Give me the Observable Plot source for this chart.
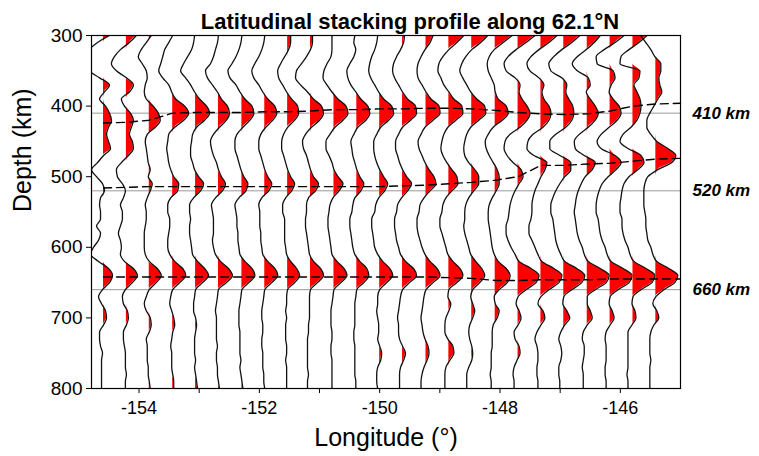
<!DOCTYPE html>
<html><head><meta charset="utf-8">
<script src="https://cdn.jsdelivr.net/npm/d3@7"></script>
<script src="https://cdn.jsdelivr.net/npm/@observablehq/plot@0.6"></script>
<style>body{margin:0;background:#fff;} svg{display:block}</style>
</head><body><div id="chart"></div>
<script>
// ---- data ----
const depths = [300,310,320,330,340,350,360,370,380,390,400,410,420,430,440,450,460,470,480,490,500,510,520,530,540,550,560,570,580,590,600,610,620,630,640,650,660,670,680,690,700,710,720,730,740,750,760,770,780,790,800];
const lons = [-154.59,-154.21,-153.83,-153.44,-153.06,-152.68,-152.29,-151.91,-151.53,-151.15,-150.76,-150.38,-150.00,-149.62,-149.23,-148.85,-148.47,-148.08,-147.70,-147.32,-146.94,-146.55,-146.17,-145.79,-145.41];
// amplitude (arbitrary units) of each stacked trace at each depth
const t00 = [6,-6,-14,-16,-16,-14,-4,6,1,-4, 2,6,8,5,3,5,7,0,-6,-12, -7,-1,1,-3,-4,-3, -3,-7,-3,-5,-10,-13,-5,5,9,6, -1,-5,-2,2,3,0,-4,-4,-3,-1, -2,-2,-2,-2,-2];
const t01 = [10,3,-6,-12,-15,-10,0,7,3,-5, -2,4,7,5,3,6,7,2,-5,-10, -9,-4,-1,-3,-6,-4, -4,-6,-8,-6,-5,-6,-2,7,11,6, -1,-4,-3,1,2,0,-3,-3,-2,-1, -1,-1,0,-1,-1];
const t02 = [2,-3,-8,-11,-7,-3,-2,-4,-5,-3, 4,9,11,6,-2,-4,-3,-2,-1,1, -1,3,1,-2,-4,-3, -3,-4,-5,-5,-5,-4,0,8,12,7, 0,-3,-5,-3,1,2,0,-3,-2,-2, -2,-1,-1,0,1];
const t03 = [0,-4,-8,-10,-12,-14,-10,-4,-1,3, 12,16,11,2,-4,-5,-6,-5,-4,-2, 1,6,5,-2,-5,-5, -3,-3,-4,-5,-5,-3,2,10,13,7, 0,-2,-3,-1,1,2,0,-1,-2,-1, -1,-1,0,1,1];
const t04 = [-1,-2,-4,-8,-12,-15,-10,-5,-1,4, 11,14,9,1,-3,-4,-5,-5,-3,-1, 3,8,5,-2,-6,-6, -5,-6,-6,-5,-4,-3,2,9,13,7, 0,-1,-2,-2,0,1,0,-1,-1,-1, 0,-1,0,1,2];
const t05 = [0,-1,-3,-5,-8,-13,-11,-6,-1,3, 9,11,8,1,-5,-8,-7,-5,-2,0, 3,7,4,-3,-7,-6, -5,-5,-5,-6,-5,-3,2,10,14,8, 0,-1,-2,-3,-2,-2,-2,-2,-1,-2, -2,-1,-1,0,1];
const t06 = [0,-1,-3,-6,-10,-14,-12,-6,-2,3, 10,12,8,1,-5,-7,-7,-5,-3,-1, 2,6,4,-3,-7,-6, -5,-5,-4,-4,-3,-2,3,10,13,7, 0,-1,-2,-3,-3,-3,-2,-2,-2,-2, -1,-2,-1,0,1];
const t07 = [0,-1,-3,-6,-10,-13,-11,-6,-2,3, 10,12,8,1,-4,-6,-6,-4,-2,0, 3,7,4,-3,-6,-5, -5,-5,-4,-4,-3,-2,3,10,13,7, 0,-1,-2,-3,-3,-2,-2,-3,-3,-2, -2,-2,-1,-1,0];
const t08 = [3,3,1,-3,-7,-10,-9,-5,-1,4, 10,11,7,0,-4,-6,-6,-4,-2,0, 3,7,4,-2,-5,-5, -3,-3,-3,-3,-2,-1,3,9,12,7, 0,-1,-1,-2,-1,-2,-2,-2,-1,-1, -2,-1,-1,-1,-1];
const t09 = [2,2,0,-4,-9,-14,-15,-10,-3,3, 11,13,9,1,-5,-8,-7,-4,-2,0, 3,8,5,-2,-4,-4, -5,-5,-4,-3,-2,-1,3,10,13,7, 0,-1,-1,-1,-1,-2,-2,-3,-3,-3, -3,-3,-2,-3,-3];
const t10 = [-2,-2,-2,-3,-7,-10,-11,-7,-2,4, 12,14,9,1,-4,-8,-8,-5,-2,0, 4,9,5,-1,-4,-5, -6,-6,-5,-4,-3,-2,3,10,13,7, 0,-1,-2,-3,-3,-3,-2,-2,-3,-3, -2,-2,-2,-2,-2];
const t11 = [-2,-3,-1,-3,-7,-10,-9,-6,-1,4, 11,13,9,1,-3,-6,-5,-4,-2,0, 3,7,4,-2,-4,-5, -7,-7,-6,-5,-4,-2,3,10,12,7, 0,-1,-2,-2,-2,-2,-3,-3,-2,-2, -2,-2,-2,-1,-1];
const t12 = [-2,-3,-5,-8,-10,-11,-9,-5,-1,4, 12,14,9,1,-3,-6,-6,-5,-3,0, 4,8,5,-1,-4,-5, -8,-8,-7,-6,-5,-2,3,10,13,7, 0,-2,-2,-3,-2,-1,-1,-2,0,2, 1,-2,-3,-3,-2];
const t13 = [2,1,-2,-6,-9,-10,-8,-4,0,5, 13,14,8,0,-4,-7,-7,-5,-3,0, 4,9,5,-1,-5,-6, -8,-8,-7,-6,-4,-2,3,11,14,7, 0,-2,-3,-4,-5,-4,-4,-3,0,3, 1,-2,-3,-3,-3];
const t14 = [7,4,-1,-5,-8,-9,-8,-4,0,5, 13,14,7,-1,-5,-8,-7,-4,-1,3, 8,10,4,-2,-6,-7, -9,-9,-8,-6,-4,-1,4,11,14,7, 0,-2,-3,-4,-5,-4,-3,-1,2,3, 1,-2,-4,-5,-5];
const t15 = [15,8,0,-6,-10,-11,-8,-5,0,5, 13,14,7,-1,-5,-7,-8,-6,-2,3, 8,9,3,-3,-6,-7, -9,-9,-7,-5,-3,-1,4,11,14,8, 0,-1,2,0,-3,-4,-4,-1,4,5, 1,-3,-4,-4,-4];
const t16 = [16,9,0,-6,-10,-12,-9,-5,-1,5, 13,14,7,-1,-5,-7,-8,-7,-3,3, 7,7,2,-3,-6,-7, -7,-8,-7,-5,-3,-1,4,10,13,8, 1,-1,1,3,1,-2,-3,-2,0,1, 0,-3,-5,-5,-5];
const t17 = [17,8,-1,-6,-8,-7,-4,-1,0,3, 11,13,7,-2,-7,-10,-9,-6,-2,2, 4,4,1,-3,-6,-7, -7,-6,-5,-4,-3,-1,3,11,15,12, 4,-1,0,4,2,-2,-3,-3,-3,-4, -4,-4,-5,-4,-4];
const t18 = [17,8,-2,-10,-14,-12,-3,2,1,4, 9,12,9,2,-8,-13,-14,-11,-5,3, 5,1,-3,-6,-8,-9, -10,-12,-12,-10,-7,-3,1,13,21,18, 8,0,-2,1,3,0,-4,-3,1,2, -1,-4,-5,-4,-4];
const t19 = [16,8,-2,-10,-14,-11,-2,3,1,3, 8,10,8,2,-8,-13,-14,-7,6,4, 0,-3,-6,-8,-9,-9, -10,-12,-12,-9,-6,-3,1,13,21,18, 8,0,-3,2,4,0,-4,-6,-4,-3, -3,-4,-4,-3,-3];
const t20 = [16,8,-2,-10,-15,-13,-2,3,2,5, 9,10,8,2,-8,-14,-14,-4,7,7, 1,-4,-8,-11,-13,-13, -11,-10,-9,-8,-6,-3,1,13,21,18, 8,0,-1,3,6,1,-3,-5,-3,-2, -3,-5,-5,-4,-4];
const t21 = [13,7,-1,-10,-15,-10,1,3,-1,3, 8,11,8,1,-8,-13,-12,-3,8,5, -2,-6,-9,-11,-12,-13, -12,-11,-10,-8,-5,-3,1,13,22,19, 8,0,0,3,5,0,-4,-5,-3,-3, -4,-5,-4,-4,-4];
const t22 = [14,5,-6,-14,-13,3,5,1,-1,3, 9,11,7,-1,-9,-13,-9,5,11,6, -2,-8,-11,-13,-14,-14, -12,-11,-10,-8,-5,-3,1,13,22,19, 8,0,-1,2,4,0,-4,-5,-4,-4, -4,-5,-5,-4,-4];
const t23 = [14,6,-4,-12,-13,7,6,1,4,7, 8,7,4,-2,-10,-13,-5,8,11,5, -4,-9,-11,-12,-13,-13, -11,-11,-10,-8,-5,-3,1,13,22,19, 8,0,-1,2,3,-1,-5,-5,-5,-5, -5,-5,-6,-5,-5];
const t24 = [-15,-10,-5,-1,5,5,3,4,6,2, -2,-6,-9,-9,-5,1,12,20,16,2, -8,-11,-12,-12,-12,-11, -10,-10,-9,-8,-5,-3,1,13,22,19, 8,0,-3,1,3,-2,-5,-6,-6,-6, -5,-6,-6,-6,-6];
const traces = [t00,t01,t02,t03,t04,t05,t06,t07,t08,t09,t10,t11,t12,t13,t14,t15,t16,t17,t18,t19,t20,t21,t22,t23,t24];

// picked discontinuity depths (dashed lines), last point at the east edge
const pickLon = [...lons, -145.0];
const pick410 = [424,423,420,410,409,409,409,408,408,407,405,405,404,404,403,403,404,406,409,411,412,411,407,400,397,396];
const pick520 = [516,515,514,514,514,514,514,514,514,514,514,514,514,513,512,510,508,505,500,484,484,482,481,478,475,474];
const pick660 = [642,642,642,642,642,642,642,642,642,642,642,642,642,642,642,643,644,647,647,646,646,646,645,645,645,645];

const refDepths = [410, 520, 660];
const refLabels = ["410 km", "520 km", "660 km"];
const xTicks = [-154,-153,-152,-151,-150,-149,-148,-147,-146];
const yTicks = [300,400,500,600,700,800];
const xDomain = [-154.79, -145.0];
const yDomain = [300, 800];
const titleText = "Latitudinal stacking profile along 62.1°N";
const xLabel = "Longitude (°)";
const yLabel = "Depth (km)";

// ---- drawing ----
const W = 759, H = 456, mt = 35, mb = 68, ml = 91, mr = 79;
const gain = 1 / 60.2; // degrees of longitude per amplitude unit
const CURVE = "monotone-y";

const marks = [];
marks.push(Plot.ruleY(refDepths, {stroke: "#9a9a9a", strokeWidth: 1}));
traces.forEach((amp, i) => {
  const rows = depths.map((d, j) => ({
    depth: d,
    base: lons[i],
    xv: lons[i] + amp[j] * gain,
    xpos: lons[i] + Math.max(0, amp[j]) * gain
  }));
  marks.push(Plot.areaX(rows, {y: "depth", x1: "base", x2: "xpos", fill: "#ff0000", curve: CURVE, clip: true}));
  marks.push(Plot.lineX(rows, {x: "xv", y: "depth", stroke: "#111", strokeWidth: 1.3, curve: CURVE, clip: true}));
});
const pickRows = (arr) => pickLon.map((l, i) => ({lon: l, depth: arr[i]}));
for (const arr of [pick410, pick520, pick660]) {
  marks.push(Plot.line(pickRows(arr), {x: "lon", y: "depth", stroke: "#000", strokeWidth: 1.4, strokeDasharray: "8,5"}));
}
marks.push(Plot.frame({stroke: "#000", strokeWidth: 1.2}));
marks.push(Plot.axisX(xTicks, {tickSize: 5, tickPadding: 8, fontSize: 18, label: null, tickFormat: d => (d % 2 === 0 ? String(d) : "")}));
marks.push(Plot.axisY(yTicks, {tickSize: 5, tickPadding: 4, fontSize: 19, label: null, tickFormat: d => String(d)}));
marks.push(Plot.text(refDepths.map((d, i) => ({depth: d, label: refLabels[i]})), {y: "depth", text: "label", frameAnchor: "right", dx: 12, textAnchor: "start", fontSize: 17, fontWeight: "bold", fontStyle: "italic"}));
marks.push(Plot.text([titleText], {frameAnchor: "top", dx: 24, dy: -22, fontSize: 22, fontWeight: "bold"}));
marks.push(Plot.text([xLabel], {frameAnchor: "bottom", dy: 57, fontSize: 25}));
marks.push(Plot.text([yLabel], {frameAnchor: "left", dx: -69, rotate: -90, fontSize: 25}));

const chart = Plot.plot({
  width: W, height: H,
  marginTop: mt, marginBottom: mb, marginLeft: ml, marginRight: mr,
  style: {fontFamily: "'Liberation Sans', Arial, Helvetica, sans-serif", background: "#fff", color: "#000", overflow: "visible"},
  x: {domain: xDomain},
  y: {domain: yDomain, reverse: true},
  marks
});

document.getElementById("chart").appendChild(chart);
</script>
</body></html>
